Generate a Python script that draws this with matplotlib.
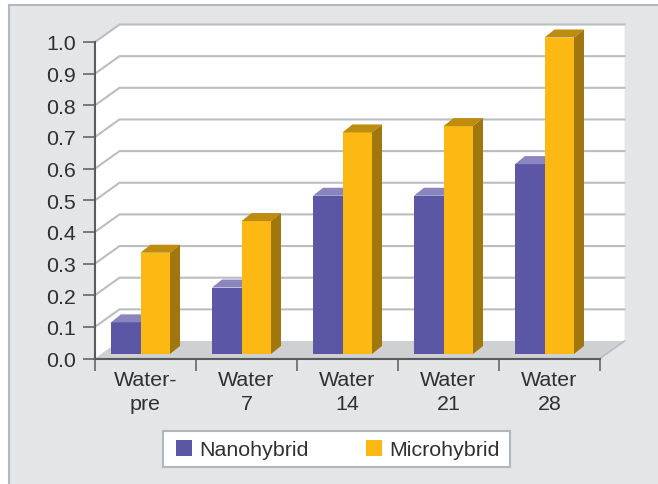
import matplotlib
matplotlib.use('Agg')
import matplotlib.pyplot as plt
from matplotlib.patches import Polygon, Rectangle
import numpy as np

categories = ['Water-\npre', 'Water\n7', 'Water\n14', 'Water\n21', 'Water\n28']
nanohybrid = [0.10, 0.21, 0.50, 0.50, 0.60]
microhybrid = [0.32, 0.42, 0.70, 0.72, 1.00]
y_ticks = [0.0, 0.1, 0.2, 0.3, 0.4, 0.5, 0.6, 0.7, 0.8, 0.9, 1.0]

W, H = 658, 485
AX_L, AX_R, AX_T, AX_B = 95, 600, 43, 359.5
PX_X = 5.0 / (AX_R - AX_L)      # data units per pixel, x
PX_Y = 1.0 / (AX_B - AX_T)      # data units per pixel, y

# depth of the fake 3D box and of the bars, in data units
WALL_DX, WALL_DY = 24.5 * PX_X, 17.5 * PX_Y
BAR_DX, BAR_DY = 10 * PX_X, 8 * PX_Y
OFF_DX, OFF_DY = -5 * PX_X, 4.5 * PX_Y
BAR_W = 29.5 * PX_X

C_NANO, C_NANO_TOP = '#5B57A5', '#8A85BE'
C_MICRO, C_MICRO_TOP, C_MICRO_SIDE = '#FDB913', '#BE8C0E', '#A0760E'
C_GRID = '#BCBDC0'
C_AXIS = '#5A5B5D'
C_TEXT = '#303030'
C_BORDER = '#B5B6B9'

plt.rcParams['font.family'] = ['Liberation Sans', 'DejaVu Sans']

fig = plt.figure(figsize=(W / 100, H / 100), dpi=100, facecolor='white')
fig.add_artist(Rectangle((9 / W, -0.01), 1.0, 1 - 6 / H + 0.01, transform=fig.transFigure,
                         facecolor='#E4E5E7', edgecolor=C_BORDER, lw=1.5, zorder=-2))
# legend frame, pixel box from the reference
fig.add_artist(Rectangle((163 / W, 1 - 468 / H), 347 / W, 36 / H, transform=fig.transFigure,
                         facecolor='white', edgecolor=C_BORDER, lw=1.5, zorder=-1))

ax = fig.add_axes([AX_L / W, 1 - AX_B / H, (AX_R - AX_L) / W, (AX_B - AX_T) / H])
ax.set_xlim(0, 5)
ax.set_ylim(0, 1)
ax.patch.set_visible(False)


def poly(pts, color, z, edge='none', lw=0):
    ax.add_patch(Polygon(pts, closed=True, facecolor=color, edgecolor=edge, lw=lw,
                         zorder=z, clip_on=False))


# walls and floor
poly([(0, 0), (WALL_DX, WALL_DY), (5 + WALL_DX, WALL_DY), (5 + WALL_DX, 1 + WALL_DY),
      (WALL_DX, 1 + WALL_DY), (0, 1)], 'white', 1)
poly([(0, 0), (WALL_DX, WALL_DY), (5 + WALL_DX, WALL_DY), (5, 0)], '#CFD0D2', 1.5)

for v in y_ticks[1:]:
    ax.plot([0, WALL_DX, 5 + WALL_DX], [v, v + WALL_DY, v + WALL_DY], color=C_GRID, lw=1.5,
            zorder=2, clip_on=False, solid_joinstyle='miter')
ax.plot([5, 5 + WALL_DX], [0, WALL_DY], color=C_GRID, lw=1.2, zorder=2, clip_on=False)

# bars
x = np.arange(len(categories)) + 0.5 + OFF_DX
base = OFF_DY
for i in range(len(categories)):
    n, m = nanohybrid[i], microhybrid[i]
    xn, xm = x[i] - BAR_W, x[i]
    ax.bar(xn, n, BAR_W, bottom=base, align='edge', color=C_NANO, zorder=3, clip_on=False)
    poly([(xn, base + n), (xn + BAR_DX, base + n + BAR_DY),
          (xn + BAR_W + BAR_DX, base + n + BAR_DY), (xn + BAR_W, base + n)], C_NANO_TOP, 3)
    ax.bar(xm, m, BAR_W, bottom=base, align='edge', color=C_MICRO, zorder=4, clip_on=False)
    poly([(xm, base + m), (xm + BAR_DX, base + m + BAR_DY),
          (xm + BAR_W + BAR_DX, base + m + BAR_DY), (xm + BAR_W, base + m)], C_MICRO_TOP, 4)
    poly([(xm + BAR_W, base), (xm + BAR_W + BAR_DX, base + BAR_DY),
          (xm + BAR_W + BAR_DX, base + m + BAR_DY), (xm + BAR_W, base + m)], C_MICRO_SIDE, 4)

# axes
for s in ('top', 'right'):
    ax.spines[s].set_visible(False)
for s in ('left', 'bottom'):
    ax.spines[s].set_color(C_AXIS)
    ax.spines[s].set_linewidth(1.5)
    ax.spines[s].set_zorder(6)

ax.set_yticks(y_ticks)
ax.set_yticklabels([f'{v:.1f}' for v in y_ticks])
ax.tick_params(axis='y', length=8.6, width=1.1, color=C_AXIS, pad=5,
               labelsize=15.4, labelcolor=C_TEXT)
ax.set_xticks(np.arange(6))
ax.set_xticklabels([])
ax.tick_params(axis='x', which='major', length=8.6, width=1.1, color=C_AXIS)
ax.set_xticks(np.arange(5) + 0.5, minor=True)
ax.set_xticklabels(categories, minor=True, linespacing=1.33)
ax.tick_params(axis='x', which='minor', length=0, pad=8.5, labelsize=15.4, labelcolor=C_TEXT)

# legend
handles = [Rectangle((0, 0), 1, 1, facecolor=C_NANO), Rectangle((0, 0), 1, 1, facecolor=C_MICRO)]
leg = fig.legend(handles, ['Nanohybrid', 'Microhybrid'], loc='center',
                 bbox_to_anchor=(338 / W, 1 - 450.5 / H), ncol=2, fontsize=15.4,
                 frameon=False, handlelength=0.75, handleheight=0.75, handletextpad=0.33,
                 columnspacing=2.7, borderpad=0, labelcolor=C_TEXT)

fig.savefig('out.png', dpi=100)
